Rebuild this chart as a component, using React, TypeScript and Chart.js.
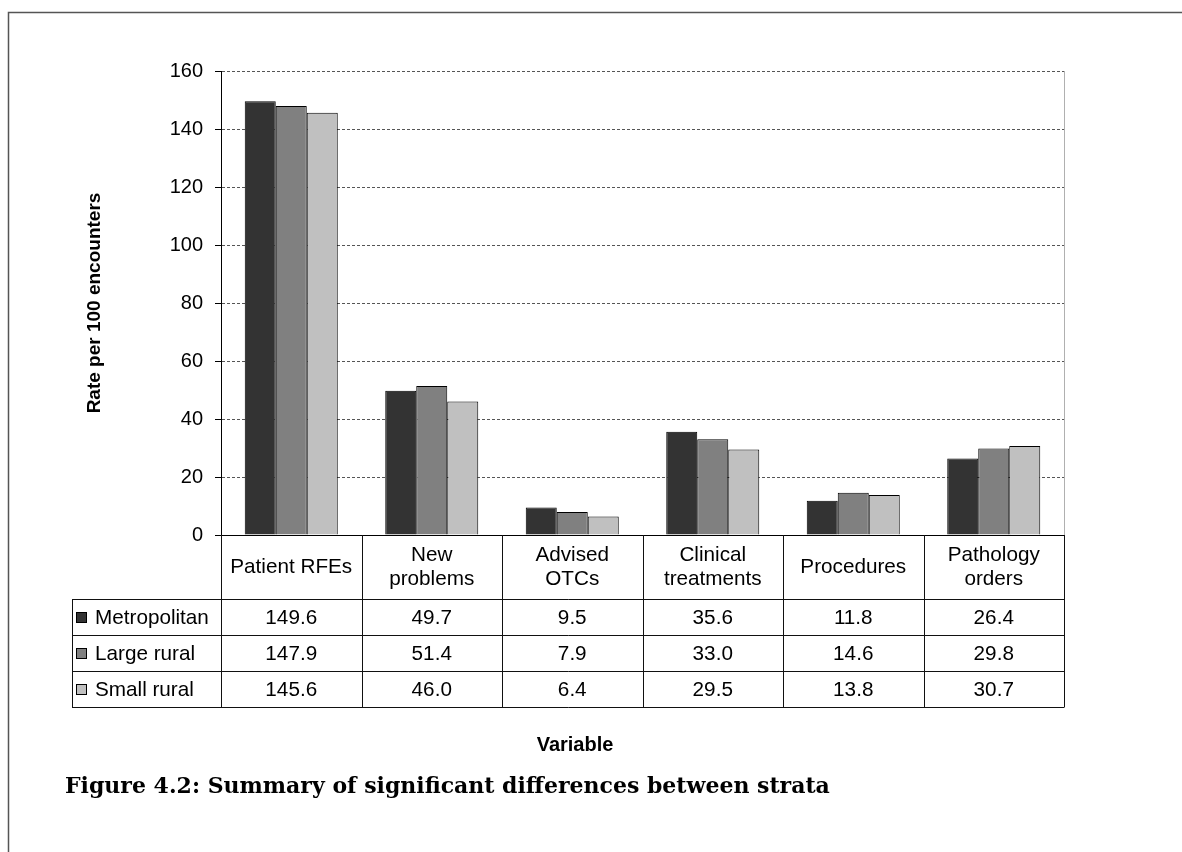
import React, { useEffect, useRef } from "react";
import { Chart, registerables } from "chart.js";

Chart.register(...registerables);

// ---- data ----
const categoryLines: string[][] = [
  ["Patient RFEs"],
  ["New", "problems"],
  ["Advised", "OTCs"],
  ["Clinical", "treatments"],
  ["Procedures"],
  ["Pathology", "orders"],
];
const seriesNames = ["Metropolitan", "Large rural", "Small rural"];
const metropolitan = [149.6, 49.7, 9.5, 35.6, 11.8, 26.4];
const largeRural = [147.9, 51.4, 7.9, 33.0, 14.6, 29.8];
const smallRural = [145.6, 46.0, 6.4, 29.5, 13.8, 30.7];
const seriesColors = ["#333333", "#808080", "#c0c0c0"];
const yMin = 0;
const yMax = 160;
const yStep = 20;
const yTitle = "Rate per 100 encounters";
const xTitle = "Variable";
const caption = "Figure 4.2: Summary of significant differences between strata";

const SANS = "'Liberation Sans', Arial, sans-serif";
const SERIF = "'DejaVu Serif', 'Liberation Serif', serif";

const tablePlugin = {
  id: "dataTableAndTexts",
  afterDraw(chart: any) {
    const ctx: CanvasRenderingContext2D = chart.ctx;
    const x = chart.scales.x;
    const area = chart.chartArea;
    const n = chart.data.labels.length;
    const datasets = chart.data.datasets;
    const colW = (x.right - x.left) / n;
    const top = area.bottom;
    const headerH = 64;
    const rowH = 36;
    const rowsTop = top + headerH;
    const tableLeft = 72;
    const bottom = rowsTop + rowH * datasets.length;

    ctx.save();
    // outer frame
    ctx.strokeStyle = "#555";
    ctx.lineWidth = 1.5;
    ctx.beginPath();
    ctx.moveTo(8.5, chart.height);
    ctx.lineTo(8.5, 12.5);
    ctx.lineTo(chart.width, 12.5);
    ctx.stroke();

    // faint right edge of plot area
    ctx.strokeStyle = "#b0b0b0";
    ctx.lineWidth = 1;
    ctx.beginPath();
    ctx.moveTo(Math.round(area.right) + 0.5, area.top);
    ctx.lineTo(Math.round(area.right) + 0.5, area.bottom);
    ctx.stroke();

    // table lines
    ctx.strokeStyle = "#111";
    ctx.lineWidth = 1;
    ctx.beginPath();
    for (let i = 0; i <= n; i++) {
      const px = Math.round(x.left + i * colW) + 0.5;
      ctx.moveTo(px, top);
      ctx.lineTo(px, bottom);
    }
    for (let r = 0; r <= datasets.length; r++) {
      const py = Math.round(rowsTop + r * rowH) + 0.5;
      ctx.moveTo(tableLeft, py);
      ctx.lineTo(x.right + 0.5, py);
    }
    ctx.moveTo(tableLeft + 0.5, rowsTop);
    ctx.lineTo(tableLeft + 0.5, bottom);
    ctx.stroke();

    // header labels
    ctx.fillStyle = "#000";
    ctx.font = `20.7px ${SANS}`;
    ctx.textAlign = "center";
    ctx.textBaseline = "middle";
    const lineH = 24;
    for (let i = 0; i < n; i++) {
      const cx = x.getPixelForValue(i);
      const lines = categoryLines[i];
      const cy = top + headerH / 2;
      lines.forEach((ln, k) => {
        ctx.fillText(ln, cx, cy + (k - (lines.length - 1) / 2) * lineH);
      });
    }

    // rows
    datasets.forEach((ds: any, r: number) => {
      const cy = rowsTop + r * rowH + rowH / 2 + 1;
      // legend key
      ctx.fillStyle = ds.backgroundColor;
      ctx.fillRect(76, Math.round(cy - 6), 11, 11);
      ctx.strokeStyle = "#000";
      ctx.lineWidth = 1;
      ctx.strokeRect(76.5, Math.round(cy - 6) + 0.5, 10, 10);
      ctx.fillStyle = "#000";
      ctx.textAlign = "left";
      ctx.fillText(ds.label, 95, cy);
      ctx.textAlign = "center";
      ds.data.forEach((v: number, i: number) => {
        ctx.fillText(v.toFixed(1), x.getPixelForValue(i), cy);
      });
    });

    // y title
    ctx.save();
    ctx.font = `bold 19px ${SANS}`;
    ctx.translate(95, (area.top + area.bottom) / 2);
    ctx.rotate(-Math.PI / 2);
    ctx.textAlign = "center";
    ctx.textBaseline = "middle";
    ctx.fillText(yTitle, 0, 0);
    ctx.restore();

    // x title
    ctx.font = `bold 20px ${SANS}`;
    ctx.textAlign = "center";
    ctx.textBaseline = "middle";
    ctx.fillText(xTitle, 575, 745);

    // caption
    ctx.font = `bold 22px ${SERIF}`;
    ctx.textAlign = "left";
    ctx.textBaseline = "alphabetic";
    ctx.fillText(caption, 65, 793);
    ctx.restore();
  },
};

export default function App() {
  const ref = useRef<HTMLCanvasElement | null>(null);

  useEffect(() => {
    if (!ref.current) return;
    const values = [metropolitan, largeRural, smallRural];
    const chart = new Chart(ref.current, {
      type: "bar",
      data: {
        labels: categoryLines.map((l) => l.join(" ")),
        datasets: seriesNames.map((name, i) => ({
          label: name,
          data: values[i],
          backgroundColor: seriesColors[i],
          borderColor: "#000",
          borderWidth: 1,
          categoryPercentage: 0.662,
          barPercentage: 1,
        })),
      },
      options: {
        responsive: false,
        maintainAspectRatio: false,
        animation: false,
        devicePixelRatio: 1,
        layout: { padding: { left: 0, top: 71, right: 118, bottom: 0 } },
        plugins: {
          legend: { display: false },
          tooltip: { enabled: false },
          title: { display: false },
        },
        scales: {
          x: {
            ticks: { display: false },
            grid: { display: false },
            border: { display: true, color: "#000", width: 1 },
            afterFit: (scale: any) => {
              scale.height = 317;
            },
          },
          y: {
            min: yMin,
            max: yMax,
            ticks: {
              stepSize: yStep,
              color: "#000",
              padding: 12,
              font: { family: SANS, size: 20 },
            },
            grid: {
              color: (c: any) => (c.tick && c.tick.value === 0 ? "rgba(0,0,0,0)" : "#555"),
              lineWidth: 1,
              tickLength: 6,
              tickColor: "#000",
              tickWidth: 1,
            },
            border: { display: true, color: "#000", width: 1, dash: [3, 2] },
            afterFit: (scale: any) => {
              scale.width = 221;
            },
          },
        },
      },
      plugins: [tablePlugin],
    });
    return () => chart.destroy();
  }, []);

  return (
    <div style={{ position: "absolute", left: 0, top: 0, width: 1182, height: 852, background: "#fff" }}>
      <canvas ref={ref} width={1182} height={852} style={{ display: "block", width: 1182, height: 852 }} />
    </div>
  );
}
